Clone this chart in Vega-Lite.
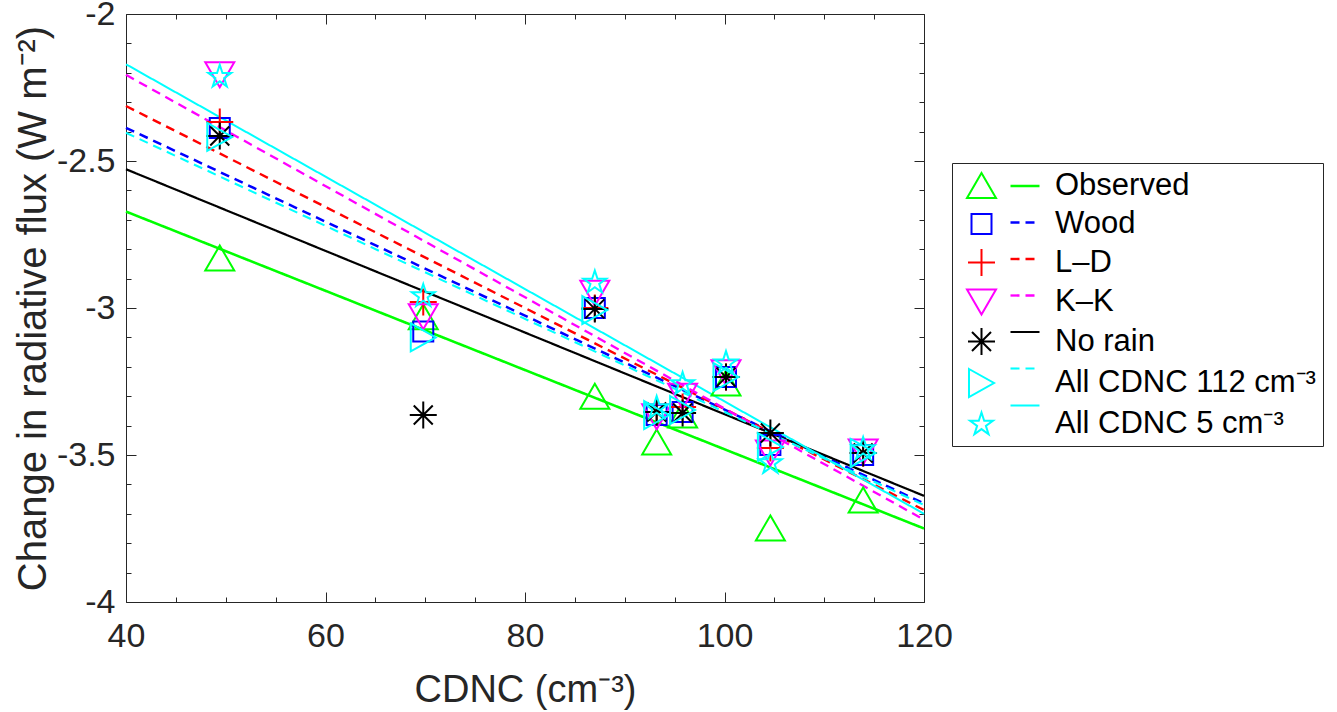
{
  "$schema": "https://vega.github.io/schema/vega-lite/v6.json",
  "description": "Change in radiative flux against CDNC, with fitted lines per scheme.",
  "autosize": {"type": "none"},
  "padding": {"left": 126, "top": 14, "right": 413, "bottom": 110},
  "width": 798,
  "height": 588,
  "datasets": {
    "fits": [
      {"model": "Observed", "cdnc": 40, "flux": -2.672},
      {"model": "Observed", "cdnc": 120, "flux": -3.75},
      {"model": "Wood", "cdnc": 40, "flux": -2.387},
      {"model": "Wood", "cdnc": 120, "flux": -3.665},
      {"model": "L–D", "cdnc": 40, "flux": -2.313},
      {"model": "L–D", "cdnc": 120, "flux": -3.687},
      {"model": "K–K", "cdnc": 40, "flux": -2.207},
      {"model": "K–K", "cdnc": 120, "flux": -3.72},
      {"model": "No rain", "cdnc": 40, "flux": -2.528},
      {"model": "No rain", "cdnc": 120, "flux": -3.639},
      {"model": "All CDNC 112 cm⁻³", "cdnc": 40, "flux": -2.404},
      {"model": "All CDNC 112 cm⁻³", "cdnc": 120, "flux": -3.67},
      {"model": "All CDNC 5 cm⁻³", "cdnc": 40, "flux": -2.171},
      {"model": "All CDNC 5 cm⁻³", "cdnc": 120, "flux": -3.70}
    ],
    "obs": [
      {"model": "Observed", "cdnc": 49.4, "flux": -2.83},
      {"model": "Observed", "cdnc": 69.8, "flux": -3.03},
      {"model": "Observed", "cdnc": 87.0, "flux": -3.30},
      {"model": "Observed", "cdnc": 93.2, "flux": -3.456},
      {"model": "Observed", "cdnc": 95.8, "flux": -3.364},
      {"model": "Observed", "cdnc": 100.15, "flux": -3.255},
      {"model": "Observed", "cdnc": 104.6, "flux": -3.748},
      {"model": "Observed", "cdnc": 113.9, "flux": -3.653},
      {"model": "Wood", "cdnc": 49.4, "flux": -2.388},
      {"model": "Wood", "cdnc": 69.8, "flux": -3.08},
      {"model": "Wood", "cdnc": 87.0, "flux": -3.00},
      {"model": "Wood", "cdnc": 93.2, "flux": -3.364},
      {"model": "Wood", "cdnc": 95.8, "flux": -3.354},
      {"model": "Wood", "cdnc": 100.15, "flux": -3.235},
      {"model": "Wood", "cdnc": 104.6, "flux": -3.466},
      {"model": "Wood", "cdnc": 113.9, "flux": -3.50},
      {"model": "L–D", "cdnc": 49.4, "flux": -2.367},
      {"model": "L–D", "cdnc": 69.8, "flux": -2.98},
      {"model": "L–D", "cdnc": 87.0, "flux": -3.00},
      {"model": "L–D", "cdnc": 93.2, "flux": -3.354},
      {"model": "L–D", "cdnc": 95.8, "flux": -3.337},
      {"model": "L–D", "cdnc": 100.15, "flux": -3.235},
      {"model": "L–D", "cdnc": 104.6, "flux": -3.476},
      {"model": "L–D", "cdnc": 113.9, "flux": -3.493},
      {"model": "K–K", "cdnc": 49.4, "flux": -2.207},
      {"model": "K–K", "cdnc": 69.8, "flux": -3.03},
      {"model": "K–K", "cdnc": 87.0, "flux": -2.95},
      {"model": "K–K", "cdnc": 93.2, "flux": -3.37},
      {"model": "K–K", "cdnc": 95.8, "flux": -3.30},
      {"model": "K–K", "cdnc": 100.15, "flux": -3.22},
      {"model": "K–K", "cdnc": 104.6, "flux": -3.493},
      {"model": "K–K", "cdnc": 113.9, "flux": -3.49},
      {"model": "No rain", "cdnc": 49.4, "flux": -2.415},
      {"model": "No rain", "cdnc": 69.8, "flux": -3.364},
      {"model": "No rain", "cdnc": 87.0, "flux": -3.003},
      {"model": "No rain", "cdnc": 93.2, "flux": -3.354},
      {"model": "No rain", "cdnc": 95.8, "flux": -3.357},
      {"model": "No rain", "cdnc": 100.15, "flux": -3.235},
      {"model": "No rain", "cdnc": 104.6, "flux": -3.425},
      {"model": "No rain", "cdnc": 113.9, "flux": -3.493},
      {"model": "All CDNC 112 cm⁻³", "cdnc": 49.4, "flux": -2.418},
      {"model": "All CDNC 112 cm⁻³", "cdnc": 69.8, "flux": -3.10},
      {"model": "All CDNC 112 cm⁻³", "cdnc": 87.0, "flux": -3.007},
      {"model": "All CDNC 112 cm⁻³", "cdnc": 93.2, "flux": -3.364},
      {"model": "All CDNC 112 cm⁻³", "cdnc": 95.8, "flux": -3.347},
      {"model": "All CDNC 112 cm⁻³", "cdnc": 100.15, "flux": -3.235},
      {"model": "All CDNC 112 cm⁻³", "cdnc": 104.6, "flux": -3.473},
      {"model": "All CDNC 112 cm⁻³", "cdnc": 113.9, "flux": -3.493},
      {"model": "All CDNC 5 cm⁻³", "cdnc": 49.4, "flux": -2.21},
      {"model": "All CDNC 5 cm⁻³", "cdnc": 69.8, "flux": -2.956},
      {"model": "All CDNC 5 cm⁻³", "cdnc": 87.0, "flux": -2.91},
      {"model": "All CDNC 5 cm⁻³", "cdnc": 93.2, "flux": -3.337},
      {"model": "All CDNC 5 cm⁻³", "cdnc": 95.8, "flux": -3.255},
      {"model": "All CDNC 5 cm⁻³", "cdnc": 100.15, "flux": -3.184},
      {"model": "All CDNC 5 cm⁻³", "cdnc": 104.6, "flux": -3.524},
      {"model": "All CDNC 5 cm⁻³", "cdnc": 113.9, "flux": -3.476}
    ]
  },
  "layer": [
    {
      "data": {"name": "fits"},
      "mark": {"type": "line"},
      "encoding": {
        "x": {
          "field": "cdnc", "type": "quantitative",
          "scale": {"domain": [40, 120], "nice": false, "zero": false},
          "axis": {
            "orient": "bottom", "values": [40, 60, 80, 100, 120], "ticks": false,
            "labelPadding": 17, "labelFlush": false, "labelOverlap": false,
            "title": "CDNC (cm⁻³)", "titlePadding": 18
          }
        },
        "y": {
          "field": "flux", "type": "quantitative",
          "scale": {"domain": [-4, -2], "nice": false, "zero": false},
          "axis": {
            "orient": "left", "values": [-4, -3.5, -3, -2.5, -2], "ticks": false,
            "labelPadding": 11, "labelExpr": "'' + datum.value", "labelOverlap": false,
            "title": "Change in radiative flux (W m⁻²)", "titlePadding": 3
          }
        },
        "stroke": {
          "field": "model", "type": "nominal",
          "scale": {
            "domain": ["All CDNC 5 cm⁻³", "All CDNC 112 cm⁻³", "No rain", "K–K", "L–D", "Wood", "Observed"],
            "range": ["#00FFFF", "#00FFFF", "#000000", "#FF00FF", "#FF0000", "#0000FF", "#00FF00"]
          },
          "legend": {
            "title": null, "orient": "none", "legendX": 876, "legendY": 149,
            "padding": 7,
            "values": ["Observed", "Wood", "L–D", "K–K", "No rain", "All CDNC 112 cm⁻³", "All CDNC 5 cm⁻³"],
            "symbolType": "stroke", "symbolSize": 841,
            "labelExpr": "'.'", "labelOpacity": 0, "labelFontSize": 31,
            "rowPadding": 5.5
          }
        },
        "strokeDash": {
          "field": "model", "type": "nominal",
          "scale": {
            "domain": ["All CDNC 5 cm⁻³", "All CDNC 112 cm⁻³", "No rain", "K–K", "L–D", "Wood", "Observed"],
            "range": [[1, 0], [9, 6], [1, 0], [9, 6], [9, 6], [9, 6], [1, 0]]
          }
        },
        "strokeWidth": {
          "field": "model", "type": "nominal",
          "scale": {
            "domain": ["All CDNC 5 cm⁻³", "All CDNC 112 cm⁻³", "No rain", "K–K", "L–D", "Wood", "Observed"],
            "range": [2, 2.6, 2, 2.6, 2.6, 2.6, 2]
          }
        }
      }
    },
    {
      "data": {"name": "obs"},
      "mark": {"type": "point", "filled": false, "size": 400, "strokeWidth": 2, "opacity": 1},
      "encoding": {
        "x": {
          "field": "cdnc", "type": "quantitative",
          "scale": {"domain": [40, 120], "nice": false, "zero": false},
          "axis": {"orient": "top", "values": [40, 60, 80, 100, 120], "labels": false, "tickSize": -10, "title": null}
        },
        "y": {
          "field": "flux", "type": "quantitative",
          "scale": {"domain": [-4, -2], "nice": false, "zero": false},
          "axis": {"orient": "right", "values": [-4, -3.5, -3, -2.5, -2], "labels": false, "tickSize": -10, "title": null}
        },
        "color": {
          "field": "model", "type": "nominal",
          "scale": {
            "domain": ["Observed", "Wood", "L–D", "K–K", "No rain", "All CDNC 112 cm⁻³", "All CDNC 5 cm⁻³"],
            "range": ["#00FF00", "#0000FF", "#FF0000", "#FF00FF", "#000000", "#00FFFF", "#00FFFF"]
          },
          "legend": {
            "title": null, "orient": "none", "legendX": 826, "legendY": 149,
            "padding": 7, "strokeColor": "#262626",
            "symbolSize": 400, "symbolStrokeWidth": 2, "symbolOffset": 7,
            "labelOffset": 58, "labelFontSize": 31, "labelColor": "black", "labelLimit": 400,
            "rowPadding": 5.5
          }
        },
        "shape": {
          "field": "model", "type": "nominal",
          "scale": {
            "domain": ["Observed", "Wood", "L–D", "K–K", "No rain", "All CDNC 112 cm⁻³", "All CDNC 5 cm⁻³"],
            "range": [
              "M0,-1.25L1.45,1.25L-1.45,1.25Z",
              "M-1,-1L1,-1L1,1L-1,1Z",
              "M-1.35,0L1.35,0M0,-1.35L0,1.35",
              "M-1.45,-1.25L1.45,-1.25L0,1.25Z",
              "M-1.35,0L1.35,0M0,-1.35L0,1.35M-0.95,-0.95L0.95,0.95M-0.95,0.95L0.95,-0.95",
              "M-1.25,-1.4L1.25,0L-1.25,1.4Z",
              "M0,-1.1L0.27,-0.272L1.141,-0.271L0.437,0.242L0.705,1.071L0,0.56L-0.705,1.071L-0.437,0.242L-1.141,-0.271L-0.27,-0.272Z"
            ]
          }
        }
      }
    },
    {
      "data": {"name": "fits"},
      "mark": {"type": "point", "opacity": 0},
      "encoding": {
        "x": {
          "field": "cdnc", "type": "quantitative",
          "scale": {"domain": [40, 120], "nice": false, "zero": false},
          "axis": {"orient": "bottom", "values": [40, 60, 80, 100, 120], "labels": false, "tickSize": -10, "title": null}
        },
        "y": {
          "field": "flux", "type": "quantitative",
          "scale": {"domain": [-4, -2], "nice": false, "zero": false},
          "axis": {"orient": "left", "values": [-4, -3.5, -3, -2.5, -2], "labels": false, "tickSize": -10, "title": null}
        }
      }
    },
    {
      "data": {"name": "fits"},
      "mark": {"type": "point", "opacity": 0},
      "encoding": {
        "x": {
          "field": "cdnc", "type": "quantitative",
          "scale": {"domain": [40, 120], "nice": false, "zero": false},
          "axis": {"orient": "bottom", "values": [45, 50, 55, 65, 70, 75, 85, 90, 95, 105, 110, 115], "labels": false, "tickSize": -5, "title": null}
        },
        "y": {
          "field": "flux", "type": "quantitative",
          "scale": {"domain": [-4, -2], "nice": false, "zero": false},
          "axis": {"orient": "left", "values": [-3.9, -3.8, -3.7, -3.6, -3.4, -3.3, -3.2, -3.1, -2.9, -2.8, -2.7, -2.6, -2.4, -2.3, -2.2, -2.1], "labels": false, "tickSize": -5, "title": null}
        }
      }
    },
    {
      "data": {"name": "fits"},
      "mark": {"type": "point", "opacity": 0},
      "encoding": {
        "x": {
          "field": "cdnc", "type": "quantitative",
          "scale": {"domain": [40, 120], "nice": false, "zero": false},
          "axis": {"orient": "top", "values": [45, 50, 55, 65, 70, 75, 85, 90, 95, 105, 110, 115], "labels": false, "tickSize": -5, "title": null}
        },
        "y": {
          "field": "flux", "type": "quantitative",
          "scale": {"domain": [-4, -2], "nice": false, "zero": false},
          "axis": {"orient": "right", "values": [-3.9, -3.8, -3.7, -3.6, -3.4, -3.3, -3.2, -3.1, -2.9, -2.8, -2.7, -2.6, -2.4, -2.3, -2.2, -2.1], "labels": false, "tickSize": -5, "title": null}
        }
      }
    }
  ],
  "resolve": {"axis": {"x": "independent", "y": "independent"}},
  "config": {
    "font": "Liberation Sans",
    "background": "white",
    "view": {"stroke": "#262626", "strokeWidth": 1},
    "axis": {
      "domain": false,
      "grid": false,
      "tickColor": "#262626",
      "tickWidth": 1,
      "labelFont": "Liberation Sans",
      "labelFontSize": 34,
      "labelColor": "#262626",
      "titleFont": "Liberation Sans",
      "titleFontSize": 38,
      "titleFontWeight": "normal",
      "titleColor": "#262626"
    },
    "axisY": {"titleFontSize": 40},
    "legend": {"labelFont": "Liberation Sans"}
  }
}
